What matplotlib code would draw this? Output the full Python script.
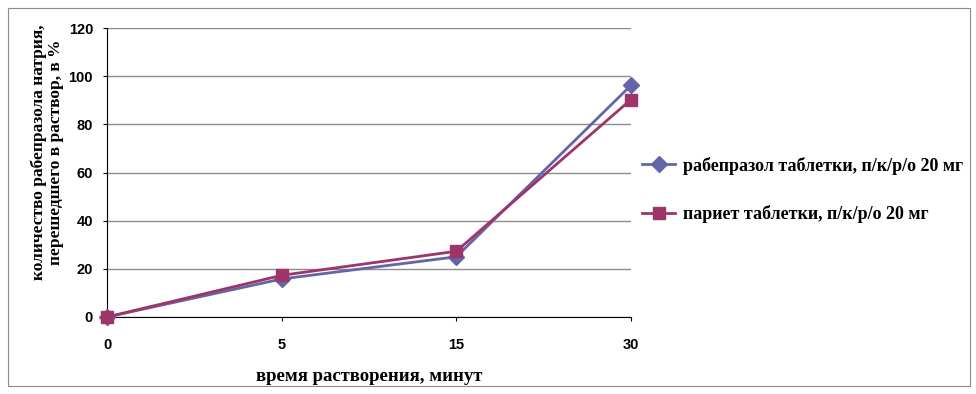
import matplotlib.pyplot as plt
from matplotlib.patches import Rectangle

# data
time_labels = ['0', '5', '15', '30']
rabeprazol = [0, 15.8, 25, 96.2]
pariet = [0, 17.3, 27.3, 90.3]
series_names = ['рабепразол таблетки, п/к/р/о 20 мг', 'париет таблетки, п/к/р/о 20 мг']

blue = '#6465A8'
maroon = '#9E3468'
serif = ['Liberation Serif', 'DejaVu Serif']

fig = plt.figure(figsize=(9.76, 3.94), dpi=100)
fig.patches.append(Rectangle((8 / 976, 8 / 394), 962 / 976, 378 / 394, transform=fig.transFigure,
                             fill=False, edgecolor='#8c8c8c', linewidth=0.8))

ax = fig.add_axes([107 / 976, 1 - 317 / 394, 524 / 976, 289 / 394])
x = range(len(time_labels))
ax.plot(x, rabeprazol, color=blue, marker='D', markersize=8, linewidth=2, label=series_names[0],
        clip_on=False, zorder=3)
ax.plot(x, pariet, color=maroon, marker='s', markersize=8.5, linewidth=2, label=series_names[1],
        clip_on=False, zorder=4)

ax.set_xlim(0, 3)
ax.set_ylim(0, 120)
ax.set_yticks(range(0, 121, 20))
ax.set_xticks(list(x))
ax.set_xticklabels(time_labels)
ax.yaxis.grid(True, color='#8c8c8c', linewidth=1)
ax.set_axisbelow(True)
for s in ['top', 'right']:
    ax.spines[s].set_visible(False)
ax.spines['left'].set_color('black')
ax.spines['bottom'].set_color('black')
ax.tick_params(axis='both', length=3, labelsize=10.5)
ax.tick_params(axis='y', pad=7)
ax.tick_params(axis='x', pad=12)
for lab in ax.get_xticklabels() + ax.get_yticklabels():
    lab.set_fontweight('bold')
    lab.set_family(['Liberation Sans', 'DejaVu Sans'])

ax.set_xlabel('время растворения, минут', family=serif, fontweight='bold', fontsize=13.5)
ax.xaxis.set_label_coords(0.5, -0.175)
ax.set_ylabel('количество рабепразола натрия,\nперешедшего в раствор, в %', family=serif,
              fontweight='bold', fontsize=12.5, linespacing=1.05)
ax.yaxis.set_label_coords(-0.083, 0.57)

fig.legend(loc='center left', bbox_to_anchor=(626 / 976, 1 - 190 / 394), frameon=False,
           prop={'family': serif, 'weight': 'bold', 'size': 13}, labelspacing=1.7,
           handlelength=1.8, handletextpad=0.45)

fig.savefig('out.png', dpi=100, facecolor='white')
